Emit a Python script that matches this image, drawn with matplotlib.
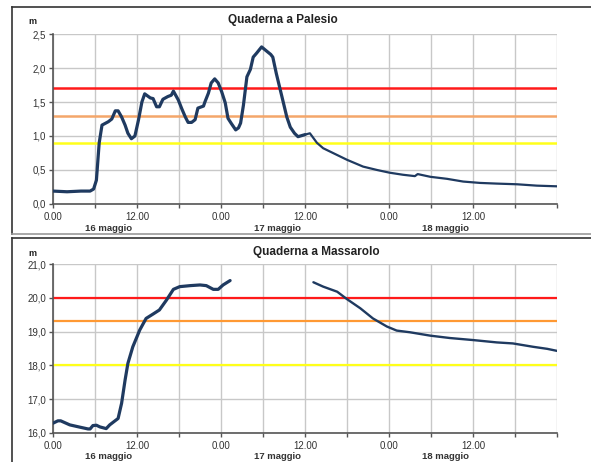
import numpy as np
import matplotlib.pyplot as plt
from matplotlib.lines import Line2D

# ---- data (hours from 16 maggio 0.00) ----
pal_hours = [0, 2, 4, 5.3, 5.8, 6.2, 6.6, 7.0, 7.9, 8.4, 8.9, 9.3, 9.8, 10.3, 10.7,
             11.2, 11.7, 12.2, 12.7, 13.1, 13.9, 14.3, 14.8, 15.2, 15.7, 16.4, 16.9,
             17.2, 17.9, 18.4, 18.9, 19.3, 19.8, 20.3, 20.7, 21.5, 21.7, 22.2, 22.6,
             23.1, 23.6, 24.1, 24.6, 25.0, 25.5, 26.1, 26.5, 26.8, 27.2, 27.7, 28.2,
             28.6, 29.1, 29.8, 30.5, 31.1, 31.4, 31.9, 32.7, 33.4, 33.9, 34.5, 35.0,
             36.0, 36.7, 37.7, 38.6, 40.0, 42.0, 44.3, 46.3, 48.1, 50.0, 51.7, 52.1,
             53.9, 56.3, 58.6, 61.0, 63.4, 66.3, 69.1, 72.0]
pal_level = [0.19, 0.18, 0.19, 0.19, 0.22, 0.35, 0.90, 1.16, 1.21, 1.25, 1.37, 1.37,
             1.28, 1.16, 1.04, 0.96, 1.00, 1.23, 1.50, 1.62, 1.56, 1.55, 1.43, 1.43,
             1.54, 1.58, 1.60, 1.66, 1.53, 1.40, 1.28, 1.20, 1.20, 1.24, 1.41, 1.44,
             1.50, 1.63, 1.78, 1.84, 1.78, 1.65, 1.49, 1.26, 1.18, 1.09, 1.12, 1.19,
             1.45, 1.87, 1.98, 2.16, 2.22, 2.31, 2.25, 2.20, 2.16, 1.92, 1.58, 1.28,
             1.13, 1.04, 0.99, 1.02, 1.04, 0.90, 0.82, 0.75, 0.65, 0.55, 0.50, 0.46,
             0.43, 0.41, 0.44, 0.40, 0.37, 0.33, 0.31, 0.30, 0.29, 0.27, 0.26]
pal_split = 36.0  # after this the record is drawn thinner (finer data)

mas_hours1 = [0, 0.7, 1.1, 2.4, 3.9, 5.0, 5.3, 5.7, 6.2, 6.7, 7.6, 8.1, 9.3, 9.8,
              10.3, 10.7, 11.4, 12.4, 13.3, 14.3, 15.2, 16.2, 17.2, 18.1, 19.6, 21.0,
              21.9, 22.9, 23.6, 24.3, 25.3]
mas_level1 = [16.29, 16.36, 16.36, 16.24, 16.17, 16.12, 16.12, 16.22, 16.23, 16.18,
              16.13, 16.24, 16.43, 16.88, 17.57, 18.06, 18.55, 19.05, 19.39, 19.52,
              19.64, 19.93, 20.25, 20.33, 20.36, 20.38, 20.36, 20.25, 20.25, 20.38,
              20.51]
mas_hours2 = [37.2, 38.6, 40.6, 42.0, 43.9, 45.7, 47.7, 49.1, 51.0, 53.9, 56.7, 60.0,
              63.4, 65.7, 68.6, 70.6, 72.0]
mas_level2 = [20.46, 20.33, 20.18, 19.96, 19.69, 19.39, 19.15, 19.03, 18.98, 18.88,
              18.81, 18.75, 18.68, 18.65, 18.55, 18.49, 18.43]

pal_thresholds = [1.7, 1.3, 0.9]
mas_thresholds = [20.0, 19.3, 18.0]
pal_thr_colors = ['#FF1A1A', '#F4A66A', '#FFFF1A']
mas_thr_colors = ['#FF1A1A', '#FF9933', '#FFFF1A']

x_labels = ['0.00', '12.00', '0.00', '12.00', '0.00', '12.00', '']
date_labels = ['16 maggio', '17 maggio', '18 maggio']
date_pos = [8, 32, 56]

W, H = 591, 462
fig = plt.figure(figsize=(W / 100, H / 100), dpi=100)
plt.rcParams['font.family'] = ['Liberation Sans', 'DejaVu Sans']

line_col = '#1F3A60'
grid_col = '#C8C8C8'
txt_col = '#333333'


def fx(px):
    return px / W


def fy(py):
    return 1 - py / H


def setup(ax, ymin, ymax, ystep, fmt):
    ax.set_xlim(0, 72)
    ax.set_ylim(ymin, ymax)
    ax.set_xticks(np.arange(0, 73, 12))
    ax.set_xticks(np.arange(0, 73, 6), minor=True)
    ax.set_xticklabels(x_labels)
    yt = np.arange(ymin, ymax + 0.001, ystep)
    ax.set_yticks(yt)
    ax.set_yticklabels([fmt.format(v).replace('.', ',') for v in yt])
    ax.grid(True, which='both', axis='x', color=grid_col, lw=1)
    ax.grid(True, which='major', axis='y', color=grid_col, lw=1)
    ax.set_axisbelow(True)
    for s in ['top', 'right']:
        ax.spines[s].set_visible(False)
    for s in ['left', 'bottom']:
        ax.spines[s].set_color('#555555')
        ax.spines[s].set_linewidth(1.2)
    ax.tick_params(axis='both', which='both', length=3, width=1, color='#555555',
                   labelsize=7, labelcolor=txt_col, pad=2)
    ax.tick_params(axis='x', which='major', pad=3)
    for lab, p in zip(date_labels, date_pos):
        ax.text(p, -0.115, lab, transform=ax.get_xaxis_transform(), ha='center',
                va='top', fontsize=6.8, fontweight='bold', color=txt_col)


# ---- top: Palesio ----
ax1 = fig.add_axes([fx(53), fy(204), fx(557 - 53), (204 - 34) / H])
setup(ax1, 0.0, 2.5, 0.5, '{:.1f}')
for t, c in zip(pal_thresholds, pal_thr_colors):
    ax1.axhline(t, color=c, lw=1.8, zorder=2)
ph = np.array(pal_hours)
pl = np.array(pal_level)
k = np.searchsorted(ph, pal_split)
ax1.plot(ph[:k + 1], pl[:k + 1], color=line_col, lw=2.3, zorder=3,
         solid_joinstyle='round', solid_capstyle='round')
ax1.plot(ph[k:], pl[k:], color=line_col, lw=1.6, zorder=3,
         solid_joinstyle='round', solid_capstyle='round')
fig.text(fx(283), fy(20), 'Quaderna a Palesio', ha='center', va='center',
         fontsize=8.5, fontweight='bold', color='#222222')
fig.text(fx(32), fy(21), 'm', ha='center', va='center', fontsize=6.5,
         fontweight='bold', color='#222222')

# ---- bottom: Massarolo ----
ax2 = fig.add_axes([fx(53), fy(433), fx(557 - 53), (433 - 264) / H])
setup(ax2, 16.0, 21.0, 1.0, '{:.1f}')
for t, c in zip(mas_thresholds, mas_thr_colors):
    ax2.axhline(t, color=c, lw=1.6, zorder=2)
ax2.plot(mas_hours1, mas_level1, color=line_col, lw=2.3, zorder=3,
         solid_joinstyle='round', solid_capstyle='round')
ax2.plot(mas_hours2, mas_level2, color=line_col, lw=1.7, zorder=3,
         solid_joinstyle='round', solid_capstyle='round')
fig.text(fx(316), fy(252), 'Quaderna a Massarolo', ha='center', va='center',
         fontsize=8.5, fontweight='bold', color='#222222')
fig.text(fx(32), fy(253), 'm', ha='center', va='center', fontsize=6.5,
         fontweight='bold', color='#222222')

# ---- panel frames ----
frames = [((12, 591), (7, 7), '#333333'), ((12, 12), (7, 234), '#333333'),
          ((12, 591), (234, 234), '#999999'), ((12, 591), (238, 238), '#333333'),
          ((12, 12), (238, 462), '#333333')]
for xs, ys, col in frames:
    fig.add_artist(Line2D([fx(v) for v in xs], [fy(v) for v in ys], color=col,
                          lw=1.2, transform=fig.transFigure))

fig.savefig('out.png', dpi=100)
